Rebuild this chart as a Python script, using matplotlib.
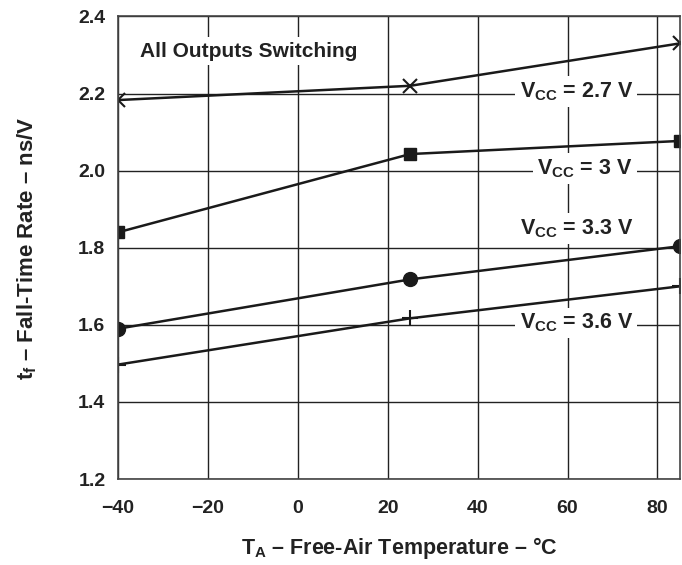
import matplotlib
matplotlib.use("Agg")
import matplotlib.pyplot as plt

# temperature points (degC)
temps = [-40, 25, 85]

# fall-time rate (ns/V) per supply voltage
tf_27 = [2.183, 2.220, 2.330]
tf_30 = [1.840, 2.043, 2.077]
tf_33 = [1.590, 1.718, 1.804]
tf_36 = [1.497, 1.617, 1.700]

x_ticks = [-40, -20, 0, 20, 40, 60, 80]
y_ticks = [1.2, 1.4, 1.6, 1.8, 2.0, 2.2, 2.4]

plt.rcParams["font.family"] = ["Liberation Sans", "DejaVu Sans"]
plt.rcParams["font.weight"] = "bold"
plt.rcParams["mathtext.fontset"] = "custom"
plt.rcParams["mathtext.rm"] = "Liberation Sans:bold"
plt.rcParams["mathtext.it"] = "Liberation Sans:bold"
plt.rcParams["mathtext.bf"] = "Liberation Sans:bold"

fig = plt.figure(figsize=(6.82, 5.65), dpi=100)
ax = fig.add_axes([0.173, 0.152, 0.824, 0.819])

ax.set_xlim(-40, 85)
ax.set_ylim(1.2, 2.4)
ax.set_xticks(x_ticks)
ax.set_yticks(y_ticks)
ax.set_xticklabels(["\u221240", "\u221220", "0", "20", "40", "60", "80"])
ax.set_yticklabels([f"{v:.1f}" for v in y_ticks])
ax.tick_params(length=0, labelsize=14, colors="#222222")
ax.tick_params(axis="y", pad=9)
ax.tick_params(axis="x", pad=15)
ax.grid(True, color="#222222", linewidth=1.0)
ax.set_axisbelow(True)
for s in ax.spines.values():
    s.set_color("#444444")
    s.set_linewidth(1.2)

lw = 1.8
ax.plot(temps, tf_27, color="#1a1a1a", lw=lw, marker="x", ms=10, mew=1.5)
ax.plot(temps, tf_30, color="#1a1a1a", lw=lw, marker="s", ms=9)
ax.plot(temps, tf_33, color="#1a1a1a", lw=lw, marker="o", ms=10)
ax.plot(temps, tf_36, color="#1a1a1a", lw=lw, marker="+", ms=12, mew=1.5)

box = dict(facecolor="white", edgecolor="none", pad=3)
lab_kw = dict(fontsize=15.5, fontweight="bold", ha="right", va="center",
              color="#222222", bbox=box, zorder=5)
ax.text(74.5, 2.205, "$V_{CC}$ = 2.7 V", **lab_kw)
ax.text(74.5, 2.005, "$V_{CC}$ = 3 V", **lab_kw)
ax.text(74.5, 1.85, "$V_{CC}$ = 3.3 V", **lab_kw)
ax.text(74.5, 1.605, "$V_{CC}$ = 3.6 V", **lab_kw)

ax.text(-35, 2.31, "All Outputs Switching", fontsize=15, fontweight="bold",
        ha="left", va="center", color="#222222", bbox=box, zorder=5)

ax.set_xlabel("$T_A$ \u2013 Free-Air Temperature \u2013 \u00b0C", fontsize=15.5,
              fontweight="bold", labelpad=13, color="#222222")
ax.set_ylabel("$t_f$ \u2013 Fall-Time Rate \u2013 ns/V", fontsize=16,
              fontweight="bold", labelpad=28, color="#222222")

fig.savefig("out.png", dpi=100)
